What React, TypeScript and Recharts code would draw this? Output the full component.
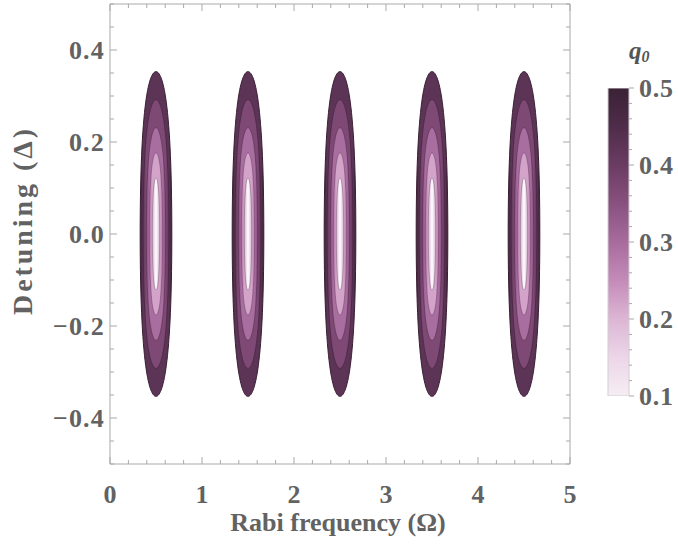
import {
  ComposedChart,
  BarChart,
  Bar,
  Scatter,
  XAxis,
  YAxis,
  ReferenceArea
} from 'recharts';

// centres of the five lobes (Rabi frequency) and detuning of their centre
const lobeOmega = [0.5, 1.5, 2.5, 3.5, 4.5];
const lobeDelta = [0, 0, 0, 0, 0];

// contour levels from the outside in: half width (Ω) and half height (Δ)
const levelHalfWidth = [0.172, 0.14, 0.105, 0.072, 0.04];
const levelHalfHeight = [0.353, 0.292, 0.231, 0.176, 0.122];
const levelEdgeColor = ['#3e2138', '#623758', '#8a4e80', '#b37aa8', '#dbb5d3'];
const levelInnerColor = ['#5c3456', '#7e4975', '#a96ea0', '#d3a3c9', '#ffffff'];
const levelLineColor = ['#3a1f34', 'rgba(55,28,50,0.55)', 'rgba(70,35,65,0.5)', 'rgba(90,50,85,0.45)', 'rgba(140,110,135,0.7)'];

const xMajor = [0, 1, 2, 3, 4, 5];
const xTicks = [0, 0.2, 0.4, 0.6, 0.8, 1, 1.2, 1.4, 1.6, 1.8, 2, 2.2, 2.4, 2.6, 2.8, 3, 3.2, 3.4, 3.6, 3.8, 4, 4.2, 4.4, 4.6, 4.8, 5];
const yMajor = [-0.4, -0.2, 0, 0.2, 0.4];
const yTicks = [-0.5, -0.45, -0.4, -0.35, -0.3, -0.25, -0.2, -0.15, -0.1, -0.05, 0, 0.05, 0.1, 0.15, 0.2, 0.25, 0.3, 0.35, 0.4, 0.45, 0.5];

const cbMajor = [0.1, 0.2, 0.3, 0.4, 0.5];
const cbTicks = [0.1, 0.12, 0.14, 0.16, 0.18, 0.2, 0.22, 0.24, 0.26, 0.28, 0.3, 0.32, 0.34, 0.36, 0.38, 0.4, 0.42, 0.44, 0.46, 0.48, 0.5];
const cbColors = ['#3a2236', '#4f2c49', '#6b3c63', '#88517f', '#a76c9c', '#c48bb9', '#dcb6d4', '#ecd6e8', '#f6edf4'];
const cbData = [{ name: 'q0', range: [0.1, 0.5] }];

const points = lobeOmega.map((w, i) => ({ omega: w, delta: lobeDelta[i] }));

const FONT = "'Liberation Serif', 'DejaVu Serif', serif";
const TEXT = '#626262';
const FRAME = '#a9a9a9';

const isMajor = (list: number[], v: number) => list.some((m) => Math.abs(m - v) < 1e-6);
const fmt = (v: number) => (v < -1e-9 ? '\u2212' : '') + Math.abs(v).toFixed(1);

function lensPath(x: number, y: number, w: number, h: number) {
  const cx = x + w / 2;
  const cy = y + h / 2;
  const rx = w / 2;
  const ry = h / 2;
  const a = 0.3;
  const b = 0.9;
  return `M${cx},${y} C${cx + rx * a},${y} ${cx + rx},${cy - ry * b} ${cx + rx},${cy}` +
    ` C${cx + rx},${cy + ry * b} ${cx + rx * a},${y + h} ${cx},${y + h}` +
    ` C${cx - rx * a},${y + h} ${cx - rx},${cy + ry * b} ${cx - rx},${cy}` +
    ` C${cx - rx},${cy - ry * b} ${cx - rx * a},${y} ${cx},${y} Z`;
}

const BottomTick = (p: any) => {
  const v = p.payload.value;
  const major = isMajor(xMajor, v);
  return (
    <g>
      <line x1={p.x} y1={p.y} x2={p.x} y2={p.y - (major ? 7 : 4)} stroke={FRAME} />
      {major && (
        <text x={p.x} y={p.y + 39} textAnchor="middle" fontFamily={FONT} fontWeight="bold" fontSize={26} fill={TEXT}>
          {v}
        </text>
      )}
    </g>
  );
};

const TopTick = (p: any) => {
  const major = isMajor(xMajor, p.payload.value);
  return <line x1={p.x} y1={p.y} x2={p.x} y2={p.y + (major ? 7 : 4)} stroke={FRAME} />;
};

const LeftTick = (p: any) => {
  const v = p.payload.value;
  const major = isMajor(yMajor, v);
  return (
    <g>
      <line x1={p.x} y1={p.y} x2={p.x + (major ? 7 : 4)} y2={p.y} stroke={FRAME} />
      {major && (
        <text x={p.x - 5} y={p.y} dy="0.34em" textAnchor="end" fontFamily={FONT} fontWeight="bold" fontSize={26} letterSpacing={1.2} fill={TEXT}>
          {fmt(v)}
        </text>
      )}
    </g>
  );
};

const RightTick = (p: any) => {
  const major = isMajor(yMajor, p.payload.value);
  return <line x1={p.x} y1={p.y} x2={p.x - (major ? 7 : 4)} y2={p.y} stroke={FRAME} />;
};

const BarTick = (p: any) => {
  const v = p.payload.value;
  const major = isMajor(cbMajor, v);
  return (
    <g>
      <line x1={p.x} y1={p.y} x2={p.x + (major ? 5 : 3)} y2={p.y} stroke={FRAME} />
      {major && (
        <text x={p.x + 10} y={p.y} dy="0.34em" textAnchor="start" fontFamily={FONT} fontWeight="bold" fontSize={26} letterSpacing={0.8} fill={TEXT}>
          {v.toFixed(1)}
        </text>
      )}
    </g>
  );
};

export default function App() {
  return (
    <div style={{ position: 'absolute', left: 0, top: 0, width: 678, height: 545, background: '#fff' }}>
      <ComposedChart
        width={678}
        height={545}
        data={points}
        margin={{ top: 3, right: 107, bottom: 0, left: 0 }}
      >
        <defs>
          {levelHalfWidth.map((hw, i) => {
            const next = levelHalfWidth[i + 1];
            const f = next === undefined ? 0.5 : (1 - next / hw) / 2;
            return (
              <linearGradient key={i} id={`lvl${i}`} x1="0" y1="0" x2="1" y2="0">
                <stop offset={0} stopColor={levelEdgeColor[i]} />
                <stop offset={f} stopColor={levelInnerColor[i]} />
                <stop offset={1 - f} stopColor={levelInnerColor[i]} />
                <stop offset={1} stopColor={levelEdgeColor[i]} />
              </linearGradient>
            );
          })}
        </defs>
        <XAxis
          dataKey="omega"
          type="number"
          domain={[0, 5]}
          ticks={xTicks}
          interval={0}
          allowDataOverflow
          height={81}
          tickSize={0}
          tickMargin={0}
          tickLine={false}
          axisLine={{ stroke: FRAME }}
          tick={BottomTick}
          label={{
            content: (lp: any) => {
              const vb = lp.viewBox;
              return (
                <text x={vb.x + vb.width / 2 - 2} y={vb.y + 67} textAnchor="middle" fontFamily={FONT} fontWeight="bold" fontSize={26} fill={TEXT}>
                  Rabi frequency (Ω)
                </text>
              );
            }
          }}
        />
        <XAxis
          xAxisId="top"
          dataKey="omega"
          orientation="top"
          type="number"
          domain={[0, 5]}
          ticks={xTicks}
          interval={0}
          allowDataOverflow
          height={1}
          tickSize={0}
          tickMargin={0}
          tickLine={false}
          axisLine={{ stroke: FRAME }}
          tick={TopTick}
        />
        <YAxis
          dataKey="delta"
          type="number"
          domain={[-0.5, 0.5]}
          ticks={yTicks}
          interval={0}
          allowDataOverflow
          width={110}
          tickSize={0}
          tickMargin={0}
          tickLine={false}
          axisLine={{ stroke: FRAME }}
          tick={LeftTick}
          label={{
            content: (lp: any) => {
              const vb = lp.viewBox;
              const cx = 32;
              const cy = vb.y + vb.height / 2 - 12;
              return (
                <text x={cx} y={cy} transform={`rotate(-90, ${cx}, ${cy})`} textAnchor="middle" fontFamily={FONT} fontWeight="bold" fontSize={28} fill={TEXT} textLength={186} lengthAdjust="spacing">
                  Detuning (Δ)
                </text>
              );
            }
          }}
        />
        <YAxis
          yAxisId="right"
          dataKey="delta"
          orientation="right"
          type="number"
          domain={[-0.5, 0.5]}
          ticks={yTicks}
          interval={0}
          allowDataOverflow
          width={1}
          tickSize={0}
          tickMargin={0}
          tickLine={false}
          axisLine={{ stroke: FRAME }}
          tick={RightTick}
        />
        {levelHalfWidth.map((hw, i) =>
          lobeOmega.map((w, j) => (
            <ReferenceArea
              key={`${i}-${j}`}
              x1={w - hw}
              x2={w + hw}
              y1={lobeDelta[j] - levelHalfHeight[i]}
              y2={lobeDelta[j] + levelHalfHeight[i]}
              shape={(p: any) => (
                <path
                  d={lensPath(p.x, p.y, p.width, p.height)}
                  fill={`url(#lvl${i})`}
                  stroke={levelLineColor[i]}
                  strokeWidth={i === 0 ? 1 : 0.9}
                />
              )}
            />
          ))
        )}
        <Scatter
          dataKey="delta"
          isAnimationActive={false}
          shape={() => <g />}
        />
        <Scatter
          dataKey="delta"
          xAxisId="top"
          yAxisId="right"
          isAnimationActive={false}
          shape={() => <g />}
        />
      </ComposedChart>

      <div style={{ position: 'absolute', left: 600, top: 0 }}>
        <BarChart
          width={78}
          height={545}
          data={cbData}
          margin={{ top: 88, right: 0, bottom: 149, left: 8 }}
          barCategoryGap={0}
        >
          <defs>
            <linearGradient id="cbGrad" x1="0" y1="0" x2="0" y2="1">
              {cbColors.map((c, i) => (
                <stop key={i} offset={i / (cbColors.length - 1)} stopColor={c} />
              ))}
            </linearGradient>
          </defs>
          <XAxis dataKey="name" hide />
          <YAxis
            orientation="right"
            type="number"
            domain={[0.1, 0.5]}
            ticks={cbTicks}
            interval={0}
            allowDataOverflow
            width={49}
            tickSize={0}
            tickMargin={0}
            tickLine={false}
            axisLine={false}
            tick={BarTick}
            label={{
              content: (lp: any) => {
                const vb = lp.viewBox;
                return (
                  <text x={vb.x} y={vb.y - 29} fontFamily={FONT} fontStyle="italic" fontWeight="bold" fontSize={25} fill="#555">
                    q<tspan fontSize={16} dy={3}>0</tspan>
                  </text>
                );
              }
            }}
          />
          <Bar
            dataKey="range"
            fill="url(#cbGrad)"
            stroke="#cfcfcf"
            strokeWidth={1}
            isAnimationActive={false}
          />
        </BarChart>
      </div>
    </div>
  );
}
